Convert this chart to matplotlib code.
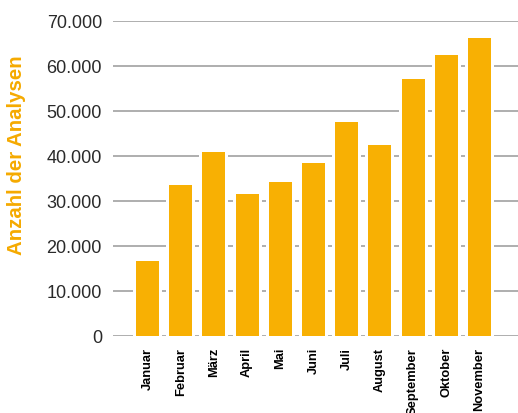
import matplotlib
matplotlib.use("Agg")
import matplotlib.pyplot as plt
import numpy as np

months = ["Januar", "Februar", "März", "April", "Mai", "Juni", "Juli",
          "August", "September", "Oktober", "November"]
values = [16700, 33500, 40900, 31500, 34200, 38400, 47600, 42400, 57100, 62400, 66200]
yticks = [0, 10000, 20000, 30000, 40000, 50000, 60000, 70000]
ytick_labels = ["0", "10.000", "20.000", "30.000", "40.000", "50.000", "60.000", "70.000"]

bar_color = "#F8B003"
label_color = "#F5AA00"

plt.rcParams['font.family'] = ['Liberation Sans', 'DejaVu Sans']

fig = plt.figure(figsize=(5.18, 4.14), dpi=100)
ax = fig.add_axes([113/518, 1-337/414, 1-113/518, 315/414])

x = np.arange(len(months))
w = 0.69
ax.bar(x, values, width=w + 6/33.2, color="white", zorder=2)
ax.bar(x, values, width=w, color=bar_color, zorder=3)

for yv in yticks:
    ax.axhline(yv, color="#999999", linewidth=1.1, zorder=1)

ax.set_xlim(-1.04, 11.16)
ax.set_ylim(0, 70000)
ax.set_yticks(yticks)
ax.set_yticklabels(ytick_labels, fontsize=13, color="#2a2a2a")
ax.set_xticks(x)
ax.set_xticklabels(months, rotation=90, fontsize=9.3, fontweight="bold", color="black",
                   va="top", ha="center")
ax.tick_params(axis="y", length=0, pad=8)
ax.tick_params(axis="x", length=0, pad=8)
for s in ax.spines.values():
    s.set_visible(False)

fig.text(17/518, 1-155/414, "Anzahl der Analysen", rotation=90, color=label_color,
         fontsize=14.7, fontweight="bold", ha="center", va="center")

fig.savefig("out.png", dpi=100)
